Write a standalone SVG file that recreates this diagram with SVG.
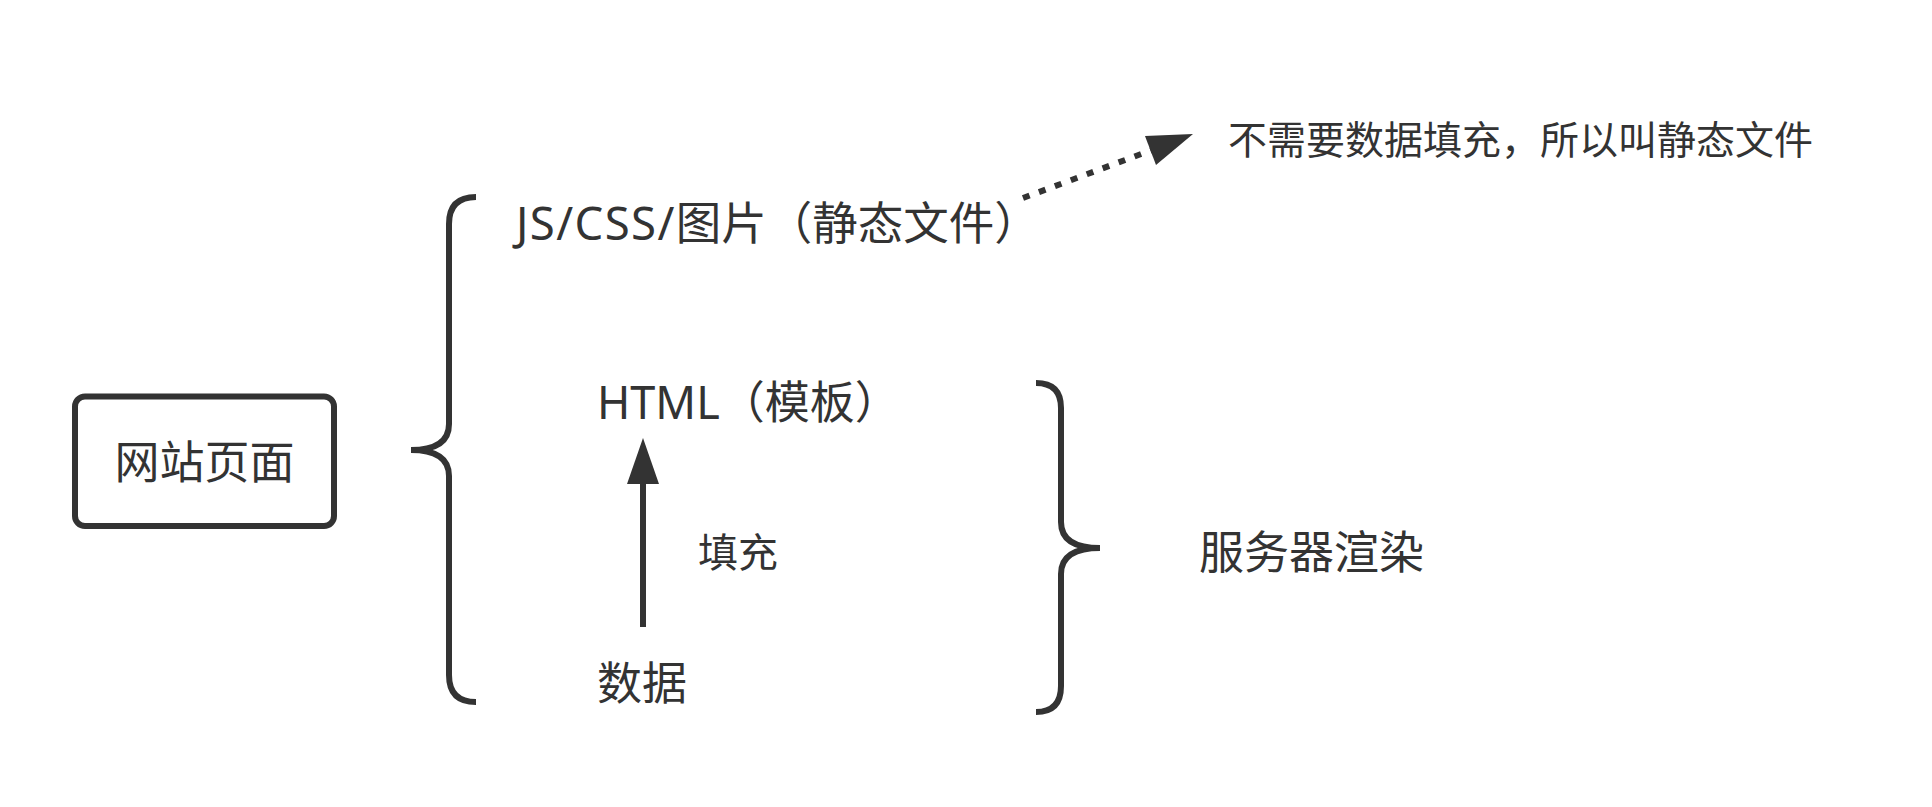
<svg xmlns="http://www.w3.org/2000/svg" width="1932" height="807" viewBox="0 0 1932 807">
<style>
.t{font-family:"Noto Sans","Noto Sans CJK SC",sans-serif;fill:#333333}
.ln{fill:none;stroke:#333333;stroke-width:6;stroke-linecap:butt}
.br{fill:none;stroke:#333333;stroke-width:6}
</style>
<rect width="1932" height="807" fill="#ffffff"/>
<g id="node-page">
<rect x="75" y="396.5" width="259" height="129.5" rx="10" ry="10" fill="#ffffff" stroke="#333333" stroke-width="6"/>
<text class="t" x="204.5" y="479" font-size="45" text-anchor="middle">网站页面</text>
</g>
<g id="node-left-brace">
<path class="br" d="M476,197 Q449,197 449,224 L449,424 Q449,450 411,450 Q449,450 449,476 L449,675 Q449,702 476,702"/>
</g>
<g id="node-static">
<text class="t" x="516" y="240" font-size="45.5"><tspan letter-spacing="1.4">JS/CSS/</tspan>图片（静态文件）</text>
</g>
<g id="node-static-note">
<text class="t" x="1228" y="154" font-size="39">不需要数据填充，所以叫静态文件</text>
</g>
<g id="node-html">
<text class="t" x="597" y="419" font-size="45">HTML（模板）</text>
</g>
<g id="node-data">
<text class="t" x="597" y="700" font-size="45">数据</text>
</g>
<g id="node-fill-label">
<text class="t" x="698" y="567" font-size="40">填充</text>
</g>
<g id="node-right-brace">
<path class="br" d="M1036,383 Q1061,383 1061,408 L1061,522 Q1061,548 1100,548 Q1061,548 1061,574 L1061,686 Q1061,712 1036,712"/>
</g>
<g id="node-ssr">
<text class="t" x="1199" y="569" font-size="45">服务器渲染</text>
</g>
<g id="connectors">
<line x1="643" y1="627" x2="643" y2="482" class="ln"/>
<path d="M643,438 L659,484 L627,484 Z" fill="#333333"/>
<line x1="1023" y1="198" x2="1152" y2="150" stroke="#333333" stroke-width="6" stroke-dasharray="7 10"/>
<path d="M1193,134 L1156,165 L1145,136 Z" fill="#333333"/>
</g>
</svg>
